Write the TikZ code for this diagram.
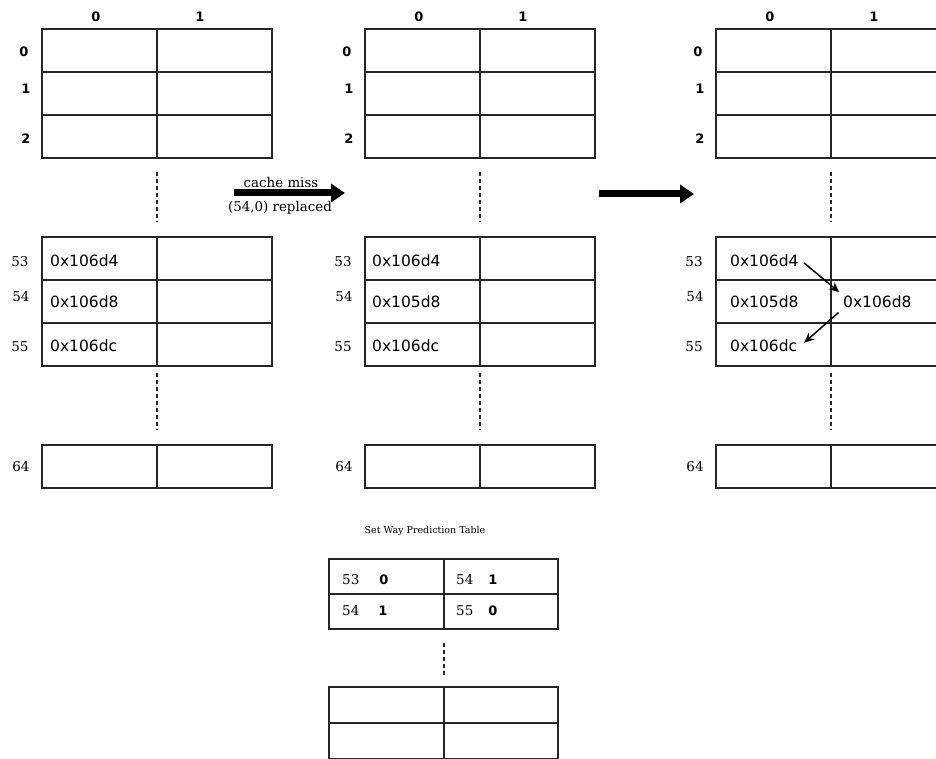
\documentclass[tikz,border=0pt]{standalone}
\usepackage{fontspec}
\setmainfont{DejaVu Serif}
\setsansfont{DejaVu Sans}
\usetikzlibrary{arrows.meta}

\begin{document}
\begin{tikzpicture}[
  x=1pt, y=-1pt,
  grid/.style={draw=black!85, line width=1.3pt},
  gap/.style={draw=black!85, line width=1.3pt, dash pattern=on 4pt off 3pt},
  idx/.style={font=\fontsize{13.5}{15}\selectfont, inner sep=0pt},
  hdr/.style={font=\sffamily\bfseries\fontsize{13}{14}\selectfont, inner sep=0pt},
  addr/.style={font=\sffamily\fontsize{15.5}{17}\selectfont, anchor=west, inner sep=3pt},
  note/.style={font=\fontsize{13.4}{15}\selectfont, inner sep=0pt, anchor=base},
  bigarrow/.style={-{Triangle[length=14pt,width=18pt]}, line width=7pt},
  move/.style={-{Stealth[length=10pt,width=9pt]}, line width=1.5pt}
]
\useasboundingbox (0,0) rectangle (936,759);
\clip (0,0) rectangle (936,759);

% Cache tables (left, middle, right)
\foreach \tx/\tn in {42/L, 365/M, 716/R} {
  \draw[grid] (\tx,29) rectangle ++(230,129);
  \draw[grid] (\tx,72) -- ++(230,0) (\tx,115) -- ++(230,0) (\tx+115,29) -- ++(0,129);
  \draw[grid] (\tx,237) rectangle ++(230,129);
  \draw[grid] (\tx,280) -- ++(230,0) (\tx,323) -- ++(230,0) (\tx+115,237) -- ++(0,129);
  \draw[grid] (\tx,445) rectangle ++(230,43);
  \draw[grid] (\tx+115,445) -- ++(0,43);
  \draw[gap] (\tx+115,172) -- (\tx+115,222);
  \draw[gap] (\tx+115,373) -- (\tx+115,430);
  \node[hdr] (\tn c0) at (\tx+54,17) {0};
  \node[hdr] (\tn c1) at (\tx+158,17) {1};
  \node[hdr] (\tn r0) at (\tx-18,52) {0};
  \node[hdr] (\tn r1) at (\tx-16,89) {1};
  \node[hdr] (\tn r2) at (\tx-16,139) {2};
  \node[idx] (\tn s53) at (\tx-22,262) {53};
  \node[idx] (\tn s54) at (\tx-21,297) {54};
  \node[idx] (\tn s55) at (\tx-22,347) {55};
  \node[idx] (\tn s64) at (\tx-21,467) {64};
}

% Left table
\node[addr] (L53) at (47,261) {0x106d4};
\node[addr] (L54) at (47,302) {0x106d8};
\node[addr] (L55) at (47,346) {0x106dc};

% Middle table
\node[addr] (M53) at (369,261) {0x106d4};
\node[addr] (M54) at (369,302) {0x105d8};
\node[addr] (M55) at (369,346) {0x106dc};

% Right table
\node[addr] (R53) at (727,261) {0x106d4};
\node[addr] (R54) at (727,302) {0x105d8};
\node[addr] (R54b) at (840,302) {0x106d8};
\node[addr] (R55) at (727,346) {0x106dc};

% Transitions
\coordinate (missA) at (234,193);
\coordinate (missB) at (345,193);
\coordinate (nextA) at (599,194);
\coordinate (nextB) at (694,194);
\draw[bigarrow] (missA) -- (missB);
\draw[bigarrow] (nextA) -- (nextB);
\node[note] (miss) at (281,188) {cache miss};
\node[note] (repl) at (280,212) {(54,0) replaced};

\draw[move, shorten <=3pt, shorten >=1pt] (R53.east) -- (R54b.north west);
\draw[move, shorten <=2pt, shorten >=5pt] (R54b.south west) -- (R55.east);

% Set way prediction table
\node[font=\fontsize{9.5}{11}\selectfont] (swpt) at (425,531) {Set Way Prediction Table};
\draw[grid] (329,559) rectangle (558,629);
\draw[grid] (329,594) -- (558,594) (444,559) -- (444,629);
\draw[gap] (444,643) -- (444,675);
\draw[grid] (329,687) rectangle (558,759);
\draw[grid] (329,723) -- (558,723) (444,687) -- (444,759);
\node[idx, anchor=west] (p53) at (342,580) {53};
\node[hdr] (p53w) at (384,580) {0};
\node[idx, anchor=west] (p54) at (342,611) {54};
\node[hdr] (p54w) at (383,611) {1};
\node[idx, anchor=west] (q54) at (456,580) {54};
\node[hdr] (q54w) at (493,580) {1};
\node[idx, anchor=west] (q55) at (456,611) {55};
\node[hdr] (q55w) at (493,611) {0};
\end{tikzpicture}
\end{document}
